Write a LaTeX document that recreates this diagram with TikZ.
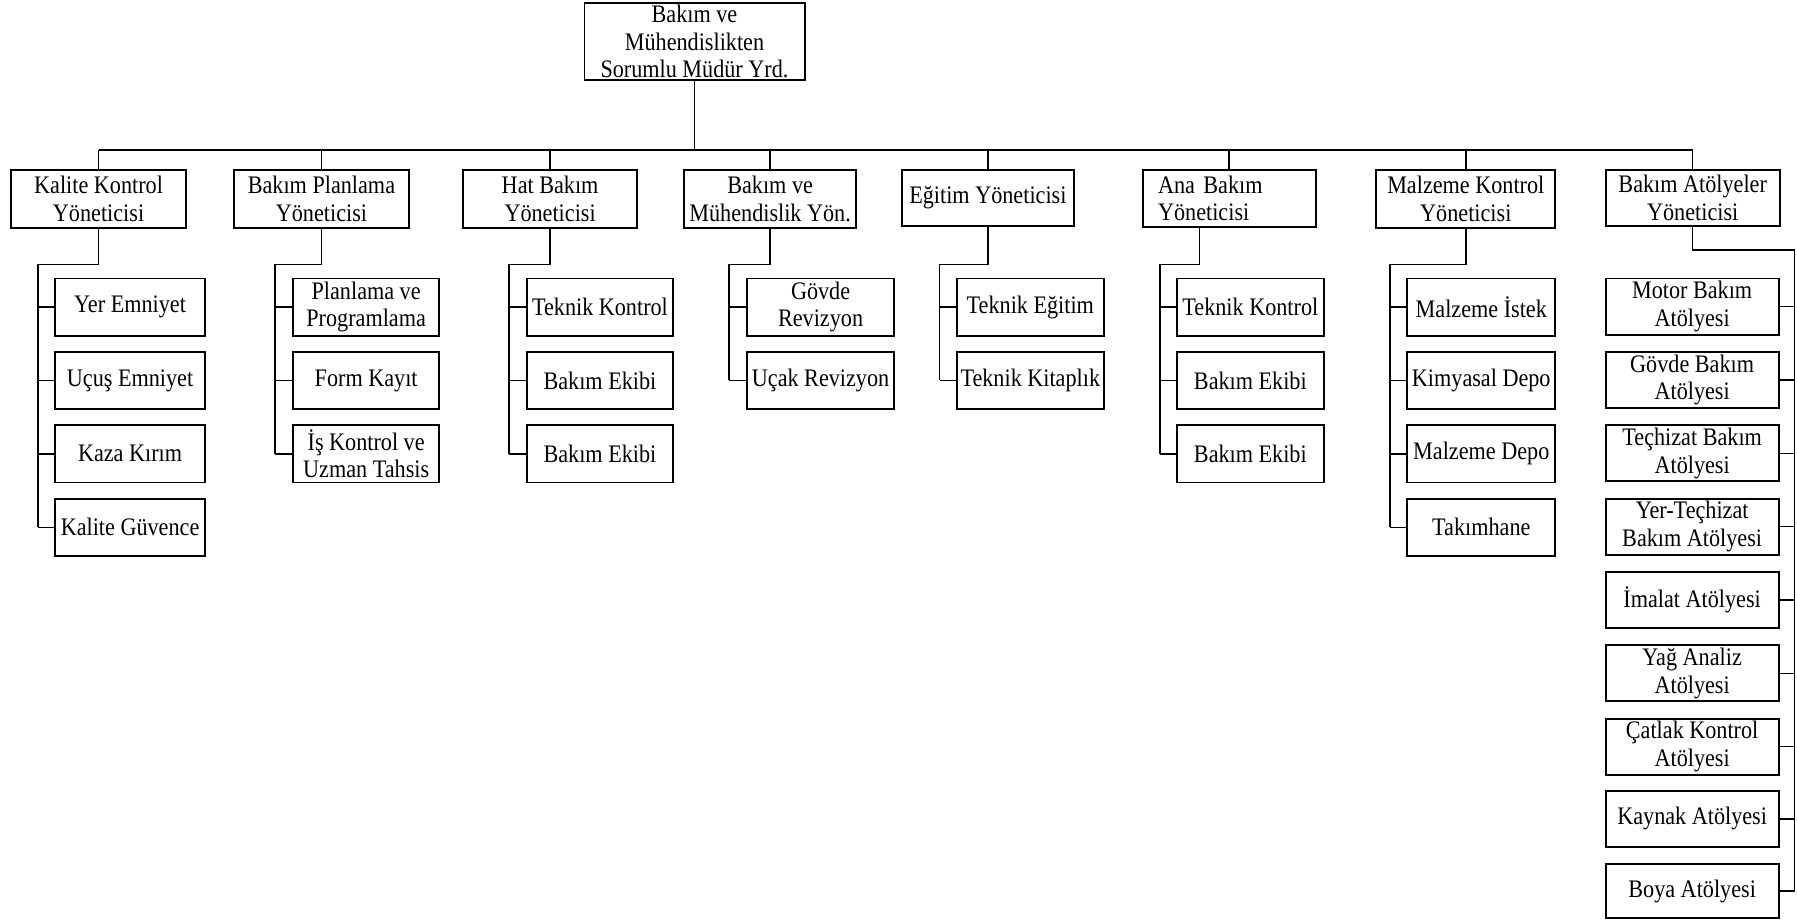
\documentclass[tikz,border=0pt]{standalone}
\usepackage{fontspec}
\setmainfont{Liberation Serif}[FakeStretch=0.88]
% \orgbox[style]{name}{x1}{y1}{x2}{y2}{text}: a box given by its corners
\newcommand\orgbox[7][]{%
  \node[bx,#1,minimum width={(#5-#3)*0.5pt},minimum height={(#6-#4)*0.5pt}]
    (#2) at ({(#3+#5)/2},{(#4+#6)/2}) {#7};}
\begin{document}
\begin{tikzpicture}[x=0.5pt,y=-0.5pt,
  bx/.style={draw,line width=0.85pt,inner sep=0pt,align=center,
             font=\fontsize{11}{12}\selectfont},
  ln/.style={line width=0.6pt}]
\useasboundingbox (0,0) rectangle (1568,803);

% head of the unit
\orgbox{top}{510}{3}{702}{70}{Bakım ve\\Mühendislikten\\Sorumlu Müdür Yrd.}

% managers
\orgbox{kk}{10}{148}{162}{199}{Kalite Kontrol\\Yöneticisi}
\orgbox{bp}{204}{148}{357}{199}{Bakım Planlama\\Yöneticisi}
\orgbox{hb}{404}{148}{556}{199}{Hat Bakım\\Yöneticisi}
\orgbox{bm}{597}{148}{747}{199}{Bakım ve\\Mühendislik Yön.}
\orgbox{eg}{787}{148}{937}{197}{Eğitim Yöneticisi}
\orgbox[align=left,text width=62pt]{ab}{997}{148}{1148}{198}{Ana Bakım\\Yöneticisi}
\orgbox{mk}{1201}{148}{1357}{199}{Malzeme Kontrol\\Yöneticisi}
\orgbox{ba}{1401}{148}{1553}{197}{Bakım Atölyeler\\Yöneticisi}

% Kalite Kontrol units
\orgbox{kk1}{48}{243}{179}{293}{Yer Emniyet}
\orgbox{kk2}{48}{307}{179}{357}{Uçuş Emniyet}
\orgbox{kk3}{48}{371}{179}{421}{Kaza Kırım}
\orgbox{kk4}{48}{435}{179}{485}{Kalite Güvence}

% Bakım Planlama units
\orgbox{bp1}{256}{243}{383}{293}{Planlama ve\\Programlama}
\orgbox{bp2}{256}{307}{383}{357}{Form Kayıt}
\orgbox{bp3}{256}{371}{383}{421}{İş Kontrol ve\\Uzman Tahsis}

% Hat Bakım units
\orgbox{hb1}{460}{243}{587}{293}{Teknik Kontrol}
\orgbox{hb2}{460}{307}{587}{357}{Bakım Ekibi}
\orgbox{hb3}{460}{371}{587}{421}{Bakım Ekibi}

% Bakım ve Mühendislik units
\orgbox{bm1}{652}{243}{780}{293}{Gövde\\Revizyon}
\orgbox{bm2}{652}{307}{780}{357}{Uçak Revizyon}

% Eğitim units
\orgbox{eg1}{835}{243}{963}{293}{Teknik Eğitim}
\orgbox{eg2}{835}{307}{963}{357}{Teknik Kitaplık}

% Ana Bakım units
\orgbox{ab1}{1027}{243}{1155}{293}{Teknik Kontrol}
\orgbox{ab2}{1027}{307}{1155}{357}{Bakım Ekibi}
\orgbox{ab3}{1027}{371}{1155}{421}{Bakım Ekibi}

% Malzeme Kontrol units
\orgbox{mk1}{1228}{243}{1357}{293}{Malzeme İstek}
\orgbox{mk2}{1228}{307}{1357}{357}{Kimyasal Depo}
\orgbox{mk3}{1228}{371}{1357}{421}{Malzeme Depo}
\orgbox{mk4}{1228}{435}{1357}{485}{Takımhane}

% workshops
\orgbox{ba1}{1401}{243}{1552}{292}{Motor Bakım\\Atölyesi}
\orgbox{ba2}{1401}{307}{1552}{356}{Gövde Bakım\\Atölyesi}
\orgbox{ba3}{1401}{371}{1552}{420}{Teçhizat Bakım\\Atölyesi}
\orgbox{ba4}{1401}{435}{1552}{484}{Yer-Teçhizat\\Bakım Atölyesi}
\orgbox{ba5}{1401}{499}{1552}{548}{İmalat Atölyesi}
\orgbox{ba6}{1401}{563}{1552}{612}{Yağ Analiz\\Atölyesi}
\orgbox{ba7}{1401}{627}{1552}{676}{Çatlak Kontrol\\Atölyesi}
\orgbox{ba8}{1401}{690}{1552}{739}{Kaynak Atölyesi}
\orgbox{ba9}{1401}{754}{1552}{801}{Boya Atölyesi}

% main distribution bar
\coordinate (bar) at (0,131);
\draw[ln] (top.south) -- (top.south |- bar);
\draw[ln] (kk.north |- bar) -- (ba.north |- bar);
\foreach \m in {kk,bp,hb,bm,eg,ab,mk,ba}
  \draw[ln] (\m.north |- bar) -- (\m.north);

% spines of the groups
\coordinate (s1) at (33,231);
\coordinate (s2) at (240,231);
\coordinate (s3) at (444,231);
\coordinate (s4) at (636,231);
\coordinate (s5) at (820,231);
\coordinate (s6) at (1012,231);
\coordinate (s7) at (1213,231);
\coordinate (s8) at (1566,218);

\draw[ln] (kk.south) |- (s1) -- (s1 |- kk4.west);
\foreach \c in {kk1,kk2,kk3,kk4} \draw[ln] (s1 |- \c.west) -- (\c.west);

\draw[ln] (bp.south) |- (s2) -- (s2 |- bp3.west);
\foreach \c in {bp1,bp2,bp3} \draw[ln] (s2 |- \c.west) -- (\c.west);

\draw[ln] (hb.south) |- (s3) -- (s3 |- hb3.west);
\foreach \c in {hb1,hb2,hb3} \draw[ln] (s3 |- \c.west) -- (\c.west);

\draw[ln] (bm.south) |- (s4) -- (s4 |- bm2.west);
\foreach \c in {bm1,bm2} \draw[ln] (s4 |- \c.west) -- (\c.west);

\draw[ln] (eg.south) |- (s5) -- (s5 |- eg2.west);
\foreach \c in {eg1,eg2} \draw[ln] (s5 |- \c.west) -- (\c.west);

\draw[ln] ([xshift=-13pt]ab.south) |- (s6) -- (s6 |- ab3.west);
\foreach \c in {ab1,ab2,ab3} \draw[ln] (s6 |- \c.west) -- (\c.west);

\draw[ln] (mk.south) |- (s7) -- (s7 |- mk4.west);
\foreach \c in {mk1,mk2,mk3,mk4} \draw[ln] (s7 |- \c.west) -- (\c.west);

\draw[ln] (ba.south) |- (s8) -- (s8 |- ba9.east);
\foreach \c in {ba1,ba2,ba3,ba4,ba5,ba6,ba7,ba8,ba9} \draw[ln] (\c.east) -- (s8 |- \c.east);
\end{tikzpicture}
\end{document}
